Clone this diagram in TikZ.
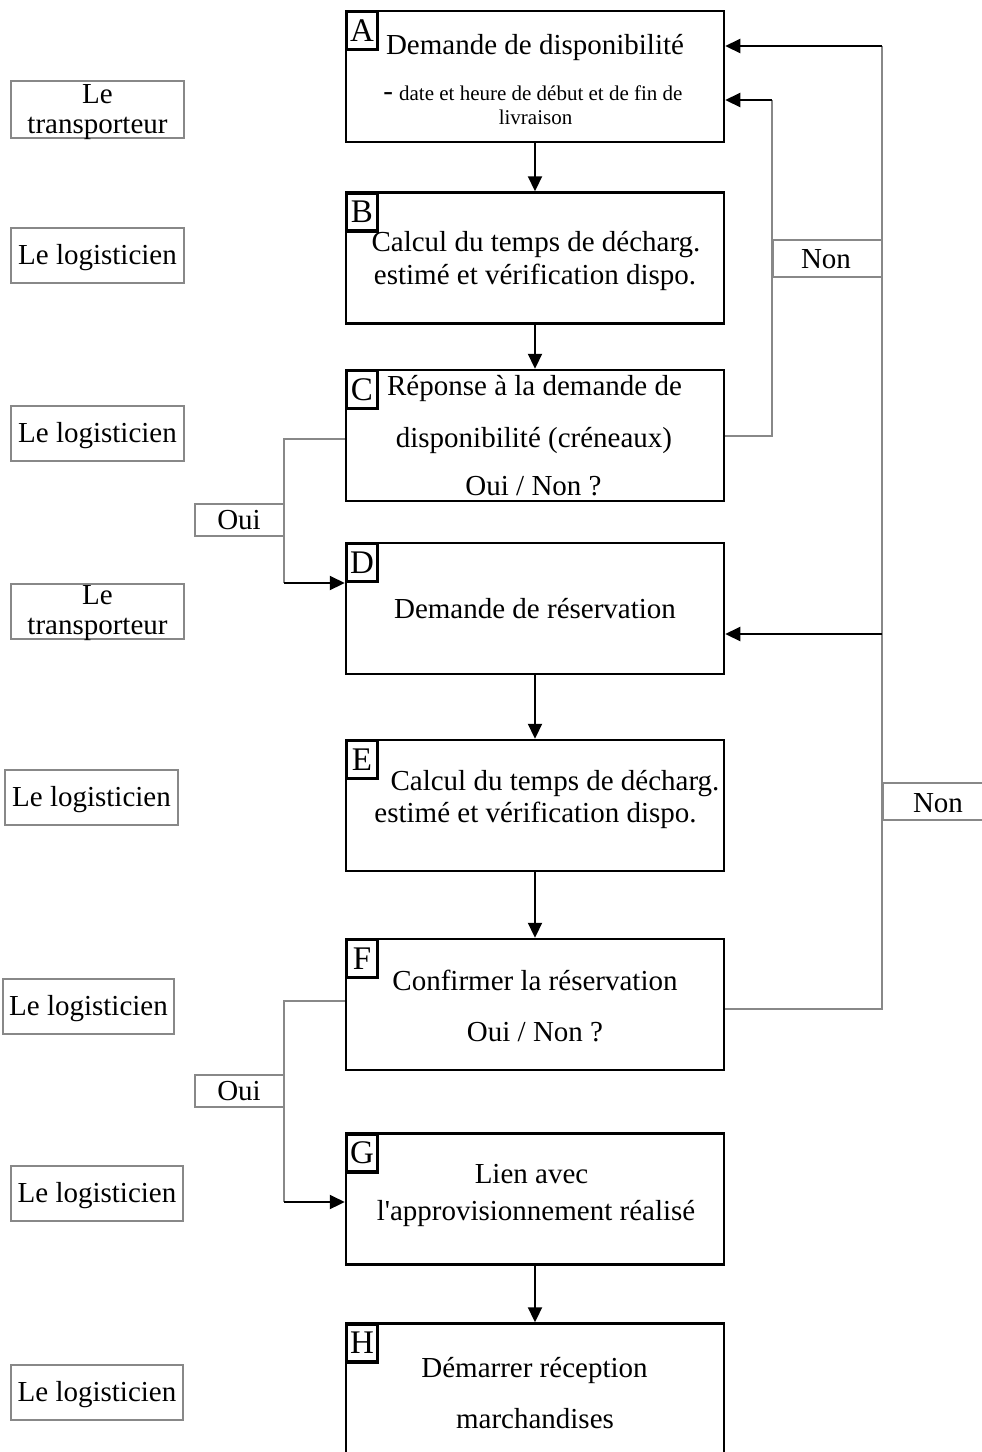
\documentclass[tikz,border=0pt]{standalone}
\usepackage{fontspec}
\setmainfont{Liberation Serif}
\usetikzlibrary{arrows.meta}
\definecolor{lg}{RGB}{136,136,136}
\newcommand{\fz}[1]{\fontsize{#1}{#1}\selectfont}
\newcommand{\sq}{\XeTeXglyph\XeTeXglyphindex "quotesingle"\relax}
\begin{document}
\begin{tikzpicture}[x=1pt,y=-1pt,
  box/.style={draw, line width=2.5pt, minimum width=378pt, minimum height=131pt, inner sep=0pt},
  letter/.style={draw, fill=white, line width=3.4pt, minimum width=31pt, minimum height=38pt, inner sep=0pt, anchor=north west, font=\fz{33}},
  role/.style={draw=lg, fill=white, line width=2pt, minimum width=173pt, minimum height=55pt, inner sep=0pt},
  tag/.style={draw=lg, fill=white, line width=2pt, minimum width=89pt, minimum height=32pt, inner sep=0pt},
  txt/.style={anchor=base, inner sep=0pt, font=\fz{29}},
  small/.style={anchor=base, inner sep=0pt, font=\fz{21}},
  flow/.style={line width=2.2pt, -{Triangle[length=15pt,width=14pt]}},
  gline/.style={draw=lg, line width=2.2pt},
]
\useasboundingbox (0,0) rectangle (982,1452);
\fill[white] (0,0) rectangle (982,1452);

% main boxes
\node[box] (A) at (535,76.5) {};
\node[box] (B) at (535,258) {};
\node[box] (C) at (535,435.5) {};
\node[box] (D) at (535,608.5) {};
\node[box] (E) at (535,805.5) {};
\node[box] (F) at (535,1004.5) {};
\node[box] (G) at (535,1199) {};
\node[box, minimum height=145pt] (H) at (535,1396) {};

% vertical flow
\draw[flow] (A.south) -- (B.north);
\draw[flow] (B.south) -- (C.north);
\draw[flow] (D.south) -- (E.north);
\draw[flow] (E.south) -- (F.north);
\draw[flow] (G.south) -- (H.north);

% Oui branches
\coordinate (o1a) at (284,439);
\coordinate (o1b) at (284,583);
\draw[gline] (C.west |- o1a) -- (o1a) -- (o1b);
\draw[flow] (o1b) -- (D.west |- o1b);
\coordinate (o2a) at (284,1001);
\coordinate (o2b) at (284,1202);
\draw[gline] (F.west |- o2a) -- (o2a) -- (o2b);
\draw[flow] (o2b) -- (G.west |- o2b);

% Non branches
\coordinate (n1a) at (772,436);
\coordinate (n1b) at (772,100);
\draw[gline] (C.east |- n1a) -- (n1a) -- (n1b);
\draw[flow] (n1b) -- (A.east |- n1b);
\coordinate (n2a) at (882,1009);
\coordinate (n2b) at (882,46);
\coordinate (n2c) at (882,634);
\draw[gline] (F.east |- n2a) -- (n2a) -- (n2b);
\draw[flow] (n2b) -- (A.east |- n2b);
\draw[flow] (n2c) -- (D.east |- n2c);

% tags
\node[tag] (oui1) at (239,519.5) {};
\node[txt] (oui1t) at (239,529) {Oui};
\node[tag] (oui2) at (239,1090.5) {};
\node[txt] (oui2t) at (239,1100) {Oui};
\node[tag, minimum width=109pt, minimum height=37pt] (non1) at (827,258) {};
\node[txt] (non1t) at (826,268) {Non};
\node[tag, minimum width=108pt, minimum height=37pt] (non2) at (937,801.5) {};
\node[txt] (non2t) at (938,812) {Non};

% letters
\node[letter] (la) at (A.north west) {A};
\node[letter] (lb) at (B.north west) {B};
\node[letter] (lc) at (C.north west) {C};
\node[letter] (ld) at (D.north west) {D};
\node[letter] (le) at (E.north west) {E};
\node[letter] (lf) at (F.north west) {F};
\node[letter] (lgg) at (G.north west) {G};
\node[letter] (lh) at (H.north west) {H};

% box texts
\node[txt] (At1) at (535,54) {Demande de disponibilité};
\node[small] (At2) at (533,100) {{\fz{29}-}\hspace{6pt}date et heure de début et de fin de};
\node[small] (At3) at (535.5,124) {livraison};
\node[txt] (Bt1) at (536,251) {Calcul du temps de décharg.};
\node[txt] (Bt2) at (535,284) {estimé et vérification dispo.};
\node[txt] (Ct1) at (534.5,395) {Réponse à la demande de};
\node[txt] (Ct2) at (534,447) {disponibilité (créneaux)};
\node[txt] (Ct3) at (533.5,495) {Oui / Non ?};
\node[txt] (Dt1) at (535,618) {Demande de réservation};
\node[txt] (Et1) at (555,790) {Calcul du temps de décharg.};
\node[txt] (Et2) at (535.5,822) {estimé et vérification dispo.};
\node[txt] (Ft1) at (535,990) {Confirmer la réservation};
\node[txt] (Ft2) at (535,1041) {Oui / Non ?};
\node[txt] (Gt1) at (531.5,1183) {Lien avec};
\node[txt] (Gt2) at (536,1220) {l\sq approvisionnement réalisé};
\node[txt] (Ht1) at (534.5,1377) {Démarrer réception};
\node[txt] (Ht2) at (535,1428) {marchandises};

% roles
\node[role, minimum height=57pt] (r1) at (97.5,109.5) {};
\node[txt] (r1a) at (97.5,103) {Le};
\node[txt] (r1b) at (97.5,133) {transporteur};
\node[role] (r2) at (97.5,255) {};
\node[txt] (r2t) at (97.5,264) {Le logisticien};
\node[role] (r3) at (97.5,433.5) {};
\node[txt] (r3t) at (97.5,442.5) {Le logisticien};
\node[role] (r4) at (97.5,611) {};
\node[txt] (r4a) at (97.5,604) {Le};
\node[txt] (r4b) at (97.5,634) {transporteur};
\node[role] (r5) at (91.5,797) {};
\node[txt] (r5t) at (91.5,806) {Le logisticien};
\node[role, minimum width=171pt] (r6) at (88.5,1006.5) {};
\node[txt] (r6t) at (88.5,1015.5) {Le logisticien};
\node[role, minimum width=172pt] (r7) at (97,1193) {};
\node[txt] (r7t) at (97,1202) {Le logisticien};
\node[role, minimum width=172pt] (r8) at (97,1392.5) {};
\node[txt] (r8t) at (97,1401.5) {Le logisticien};
\end{tikzpicture}
\end{document}
